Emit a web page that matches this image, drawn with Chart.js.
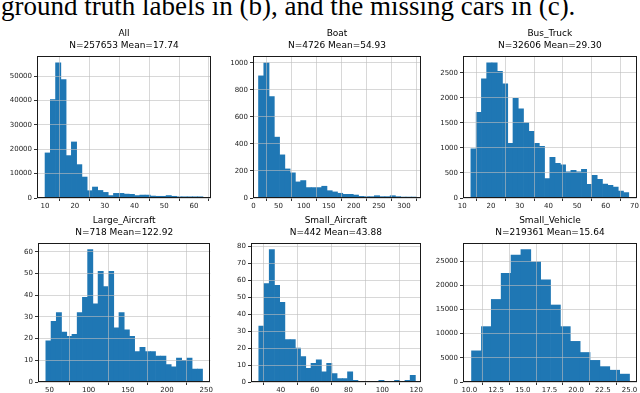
<!DOCTYPE html>
<html>
<head>
<meta charset="utf-8">
<script src="https://cdn.jsdelivr.net/npm/chart.js@4.4.1/dist/chart.umd.min.js"></script>
<style>
  html, body { margin: 0; padding: 0; background: #fff; }
  body { width: 640px; height: 393px; position: relative; overflow: hidden; }
  #caption { position: absolute; left: 1px; top: -9px; font-family: 'Liberation Serif', serif; font-size: 27px; white-space: nowrap; color: #000; }
  canvas { position: absolute; }
</style>
</head>
<body>
<div id="caption">ground truth labels in (b), and the missing cars in (c).</div>
<canvas id="c0"></canvas>
<canvas id="c1"></canvas>
<canvas id="c2"></canvas>
<canvas id="c3"></canvas>
<canvas id="c4"></canvas>
<canvas id="c5"></canvas>
<script>
// histogram counts (first/last bin edge in *Bins)
const allCounts = [18500, 40400, 55500, 48600, 17400, 23000, 13700, 8600, 3000, 4500, 3100, 2300, 1000, 1900, 1900,
  1600, 1500, 1000, 1200, 1200, 800, 700, 700, 1000, 700, 500, 500, 500, 500, 500];
const allBins = [10, 63];
const allXTicks = [10, 20, 30, 40, 50, 60];
const allYTicks = [0, 10000, 20000, 30000, 40000, 50000];

const boatCounts = [903, 1000, 750, 450, 319, 215, 186, 119, 129, 77, 77, 77, 87, 54, 45,
  35, 27, 27, 22, 12, 10, 10, 17, 10, 10, 17, 10, 7, 7, 7];
const boatBins = [10, 325];
const boatXTicks = [0, 50, 100, 150, 200, 250, 300];
const boatYTicks = [0, 200, 400, 600, 800, 1000];

const busCounts = [980, 1710, 2380, 2700, 2700, 2530, 2280, 1090, 1990, 1780, 1500, 1330, 1090, 1030, 390,
  810, 690, 660, 520, 550, 520, 570, 275, 455, 375, 280, 255, 220, 140, 107];
const busBins = [13, 68];
const busXTicks = [10, 20, 30, 40, 50, 60, 70];
const busYTicks = [0, 500, 1000, 1500, 2000, 2500];

const largeCounts = [19, 28, 32, 23, 21, 22, 32, 39, 61, 36, 51, 44, 51, 25, 32,
  24, 21, 14, 16, 14, 14, 12, 12, 8, 7, 11, 10, 11, 6, 6];
const largeBins = [45.4, 245.3];
const largeXTicks = [50, 100, 150, 200, 250];
const largeYTicks = [0, 10, 20, 30, 40, 50, 60];

const smallAirCounts = [33, 58, 78, 57, 47, 25, 25, 20, 15, 8, 11, 13, 6, 11, 5,
  2, 2, 6, 1, 0, 0, 0, 0, 1, 0, 0, 1, 0, 1, 4];
const smallAirBins = [27, 119.5];
const smallAirXTicks = [40, 60, 80, 100, 120];
const smallAirYTicks = [0, 10, 20, 30, 40, 50, 60, 70, 80];

const smallVehCounts = [6440, 11450, 17070, 22490, 26220, 27370, 24860, 21140, 15920, 11450, 8400, 6100, 4470, 3180, 2440, 1630];
const smallVehBins = [10.2, 25];
const smallVehXTicks = [10, 12.5, 15, 17.5, 20, 22.5, 25];
const smallVehYTicks = [0, 5000, 10000, 15000, 20000, 25000];

// box = plot area [left, top, right, bottom] on the page
const panels = [
  { id: 'c0', box: [37, 56, 211, 198], title: ['All', 'N=257653 Mean=17.74'], counts: allCounts, bins: allBins, xLim: [7.3, 65.7], xTicks: allXTicks, yTicks: allYTicks, dec: 0 },
  { id: 'c1', box: [253, 56, 421, 198], title: ['Boat', 'N=4726 Mean=54.93'], counts: boatCounts, bins: boatBins, xLim: [-1, 334], xTicks: boatXTicks, yTicks: boatYTicks, dec: 0 },
  { id: 'c2', box: [463, 56, 637, 198], title: ['Bus_Truck', 'N=32606 Mean=29.30'], counts: busCounts, bins: busBins, xLim: [10.25, 70.75], xTicks: busXTicks, yTicks: busYTicks, dec: 0 },
  { id: 'c3', box: [38, 243, 211, 382], title: ['Large_Aircraft', 'N=718 Mean=122.92'], counts: largeCounts, bins: largeBins, xLim: [35.4, 255.3], xTicks: largeXTicks, yTicks: largeYTicks, dec: 0 },
  { id: 'c4', box: [251, 243, 421, 382], title: ['Small_Aircraft', 'N=442 Mean=43.88'], counts: smallAirCounts, bins: smallAirBins, xLim: [22.4, 122.6], xTicks: smallAirXTicks, yTicks: smallAirYTicks, dec: 0 },
  { id: 'c5', box: [463, 243, 637, 382], title: ['Small_Vehicle', 'N=219361 Mean=15.64'], counts: smallVehCounts, bins: smallVehBins, xLim: [9.4, 25.7], xTicks: smallVehXTicks, yTicks: smallVehYTicks, dec: 1 }
];

const frame = {
  id: 'frame',
  afterDraw(chart) {
    const { ctx, chartArea: a } = chart;
    ctx.save();
    ctx.strokeStyle = '#1a1a1a';
    ctx.lineWidth = 1;
    ctx.strokeRect(Math.round(a.left) + 0.5, Math.round(a.top) + 0.5, Math.round(a.right - a.left) - 1, Math.round(a.bottom - a.top) - 1);
    ctx.restore();
  }
};

const gridOpts = { color: 'rgba(190,190,190,0.6)', z: 1, drawTicks: true, tickLength: 3, tickColor: '#333' };
const tickFont = { family: 'DejaVu Sans', size: 7 };

panels.forEach(p => {
  const [L, T, R, B] = p.box;
  const cv = document.getElementById(p.id);
  const left = L - 36, top = T - 28;
  cv.width = R + 3 - left;
  cv.height = B + 14 - top;
  cv.style.left = left + 'px';
  cv.style.top = top + 'px';

  const w = (p.bins[1] - p.bins[0]) / p.counts.length;
  const pts = p.counts.map((c, i) => ({ x: p.bins[0] + (i + 0.5) * w, y: c }));

  new Chart(cv.getContext('2d'), {
    type: 'bar',
    data: {
      datasets: [{
        data: pts,
        backgroundColor: '#1f77b4',
        borderWidth: 0,
        barPercentage: 1,
        categoryPercentage: 1
      }]
    },
    options: {
      responsive: false,
      animation: false,
      layout: { padding: { left: 0, right: 3, top: 0, bottom: 0 } },
      plugins: {
        legend: { display: false },
        tooltip: { enabled: false },
        title: {
          display: true,
          fullSize: false,
          text: p.title,
          color: '#000',
          font: { family: 'DejaVu Sans', size: 9, weight: 'normal', lineHeight: 1.3333 },
          padding: { top: 0, bottom: 4 }
        }
      },
      scales: {
        x: {
          type: 'linear',
          min: p.xLim[0],
          max: p.xLim[1],
          offset: false,
          afterBuildTicks: s => { s.ticks = p.xTicks.map(v => ({ value: v })); },
          afterFit: s => { s.height = 14; },
          grid: gridOpts,
          border: { display: false },
          ticks: { font: tickFont, color: '#222', padding: 1, maxRotation: 0, autoSkip: false, callback: v => v.toFixed(p.dec) }
        },
        y: {
          min: 0,
          max: Math.max(...p.counts) * 1.05,
          afterBuildTicks: s => { s.ticks = p.yTicks.map(v => ({ value: v })); },
          afterFit: s => { s.width = 36; },
          grid: gridOpts,
          border: { display: false },
          ticks: { font: tickFont, color: '#222', padding: 2, autoSkip: false, callback: v => String(v) }
        }
      }
    },
    plugins: [frame]
  });
});
</script>
</body>
</html>
